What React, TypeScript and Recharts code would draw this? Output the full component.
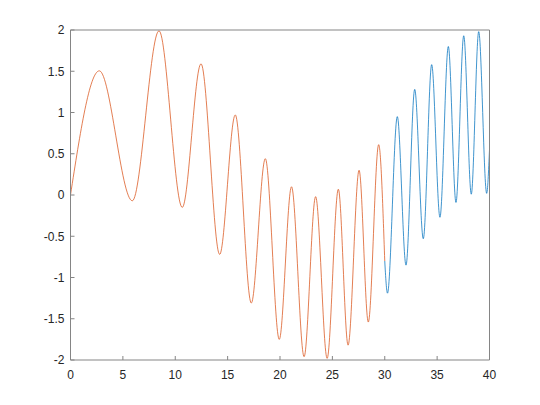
import { LineChart, Line, XAxis, YAxis } from "recharts";

// orange segment, 0..30 (peaks and troughs)
const orangeX = [0, 2.75, 5.9, 8.45, 10.67, 12.46, 14.24, 15.73, 17.26, 18.6, 19.93, 21.1, 22.3, 23.4, 24.5, 25.57, 26.5, 27.55, 28.43, 29.42, 30];
const orangeY = [0, 1.505, -0.07, 1.99, -0.15, 1.59, -0.72, 0.97, -1.31, 0.44, -1.75, 0.1, -1.96, -0.02, -1.98, 0.07, -1.82, 0.3, -1.54, 0.61, -0.8];

// blue segment, 30..40
const blueX = [30, 30.26, 31.2, 32.03, 32.86, 33.68, 34.48, 35.27, 36.07, 36.8, 37.54, 38.26, 38.97, 39.73, 40];
const blueY = [-0.8, -1.19, 0.95, -0.85, 1.28, -0.53, 1.58, -0.27, 1.8, -0.09, 1.93, 0.01, 1.98, 0.02, 0.55];

const xTicks = [0, 5, 10, 15, 20, 25, 30, 35, 40];
const yTicks = [-2, -1.5, -1, -0.5, 0, 0.5, 1, 1.5, 2];

const orangeData = orangeX.map((x, i) => ({ x, y: orangeY[i] }));
const blueData = blueX.map((x, i) => ({ x, y: blueY[i] }));

const tickStyle = { fontFamily: "Liberation Sans, Arial, sans-serif", fontSize: 12, fill: "#262626" };
const boxColor = "#858585";

export default function App() {
  return (
    <div style={{ position: "absolute", left: 0, top: 0, width: 540, height: 405, background: "#fff" }}>
      <LineChart width={540} height={405} margin={{ top: 29, right: 49.5, bottom: 15, left: 0 }}>
        <XAxis
          dataKey="x"
          type="number"
          domain={[0, 40]}
          ticks={xTicks}
          height={30}
          tickSize={-4}
          tickMargin={14}
          tick={tickStyle}
          axisLine={{ stroke: boxColor }}
          tickLine={{ stroke: boxColor }}
          allowDataOverflow
        />
        {/* mirrored box edges with inward ticks */}
        <XAxis
          xAxisId="top"
          orientation="top"
          dataKey="x"
          type="number"
          domain={[0, 40]}
          ticks={xTicks}
          height={1}
          tickSize={-4}
          tick={false}
          axisLine={{ stroke: boxColor }}
          tickLine={{ stroke: boxColor }}
        />
        <YAxis
          type="number"
          domain={[-2, 2]}
          ticks={yTicks}
          width={70.5}
          tickSize={-4}
          tickMargin={10}
          tick={tickStyle}
          axisLine={{ stroke: boxColor }}
          tickLine={{ stroke: boxColor }}
          allowDataOverflow
        />
        <YAxis
          yAxisId="right"
          orientation="right"
          type="number"
          domain={[-2, 2]}
          ticks={yTicks}
          width={1}
          tickSize={-4}
          tick={false}
          axisLine={{ stroke: boxColor }}
          tickLine={{ stroke: boxColor }}
        />
        <Line
          data={orangeData}
          dataKey="y"
          xAxisId="top"
          yAxisId="right"
          stroke="none"
          dot={false}
          activeDot={false}
          isAnimationActive={false}
        />
        <Line
          data={orangeData}
          dataKey="y"
          type="monotone"
          stroke="#D95319"
          strokeWidth={0.75}
          dot={false}
          isAnimationActive={false}
        />
        <Line
          data={blueData}
          dataKey="y"
          type="monotone"
          stroke="#0072BD"
          strokeWidth={0.75}
          dot={false}
          isAnimationActive={false}
        />
      </LineChart>
    </div>
  );
}
